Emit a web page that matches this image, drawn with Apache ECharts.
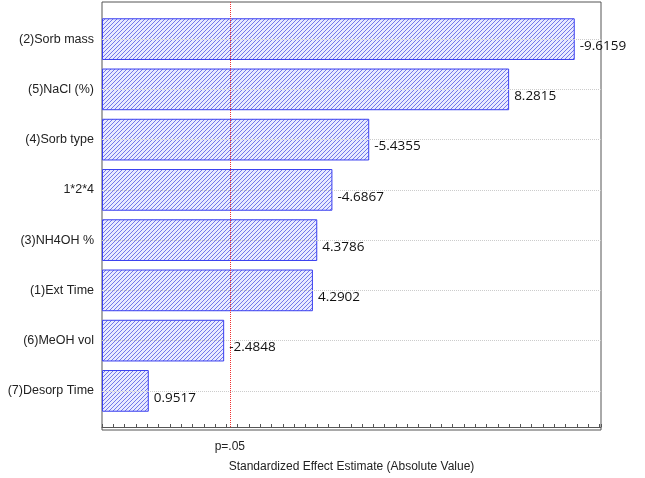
<!DOCTYPE html>
<html><head><meta charset="utf-8">
<script src="https://cdn.jsdelivr.net/npm/echarts@6/dist/echarts.min.js"></script>
<style>html,body{margin:0;padding:0;background:#fff}#c{width:645px;height:478px}</style>
</head><body><div id="c"></div>
<script>
const categories = ["(7)Desorp Time","(6)MeOH vol","(1)Ext Time","(3)NH4OH %","1*2*4","(4)Sorb type","(5)NaCl (%)","(2)Sorb mass"];
const effects = [0.9517,-2.4848,4.2902,4.3786,-4.6867,-5.4355,8.2815,-9.6159];
const pCrit = 2.6;
const xMax = 10.15;

const cv = document.createElement('canvas'); cv.width = 4; cv.height = 4;
const cx = cv.getContext('2d');
cx.fillStyle = '#e8eaff'; cx.fillRect(0,0,4,4);
cx.strokeStyle = '#7378ea'; cx.lineWidth = 1;
cx.beginPath(); cx.moveTo(0,4); cx.lineTo(4,0); cx.moveTo(-1,1); cx.lineTo(1,-1); cx.moveTo(3,5); cx.lineTo(5,3); cx.stroke();

const chart = echarts.init(document.getElementById('c'));
chart.setOption({
  animation:false,
  grid:[{left:102,right:44,top:2,bottom:48},{left:102,right:44,top:14,bottom:62}],
  xAxis:[{gridIndex:0,type:'value',min:0,max:xMax,interval:0.23,
    name:'Standardized Effect Estimate (Absolute Value)',nameLocation:'middle',nameGap:34,
    nameTextStyle:{fontFamily:'Liberation Sans',fontSize:12,color:'#222'},
    axisLine:{show:true,lineStyle:{color:'#555'}},
    axisTick:{show:true,inside:true,length:3,lineStyle:{color:'#555'}},
    axisLabel:{show:false},splitLine:{show:false}},
   {gridIndex:1,type:'value',min:0,max:xMax,show:false}],
  yAxis:[{gridIndex:0,type:'value',min:0,max:1,show:false},
   {gridIndex:1,type:'category',data:categories,
    axisLine:{show:false},
    axisTick:{show:false},
    axisLabel:{fontFamily:'Liberation Sans',fontSize:12.5,color:'#222',margin:8},
    splitLine:{show:false}}],
  series:[{type:'bar',xAxisIndex:1,yAxisIndex:1,data:effects.map(Math.abs),barCategoryGap:'17%',
    itemStyle:{color:{image:cv,repeat:'repeat'},borderColor:'#3a3ff0',borderWidth:1},
    label:{show:true,position:'right',distance:5,offset:[0,7],fontFamily:'Open Sans',fontSize:13.5,color:'#111',
      formatter:p=>effects[p.dataIndex].toFixed(4)},
    markLine:{silent:true,symbol:'none',label:{show:false},
      data:categories.map(c=>[{coord:[0,c]},{coord:[xMax,c]}]),
      lineStyle:{color:'#ccc',type:'dotted',width:1}},z:3
  },
  {type:'line',xAxisIndex:0,yAxisIndex:0,data:[],symbol:'none',
    markLine:{silent:true,symbol:'none',
      data:[{xAxis:pCrit,lineStyle:{color:'#f03030',type:'dotted',width:1}}],
      label:{show:true,position:'start',formatter:'p=.05',distance:14,fontFamily:'Liberation Sans',fontSize:12,color:'#222'}},z:4}
  ]
});
chart.setOption({graphic:[
  {type:'rect',shape:{x:102,y:2,width:499,height:428},style:{fill:'none',stroke:'#555',lineWidth:1},silent:true}
]});
</script></body></html>
